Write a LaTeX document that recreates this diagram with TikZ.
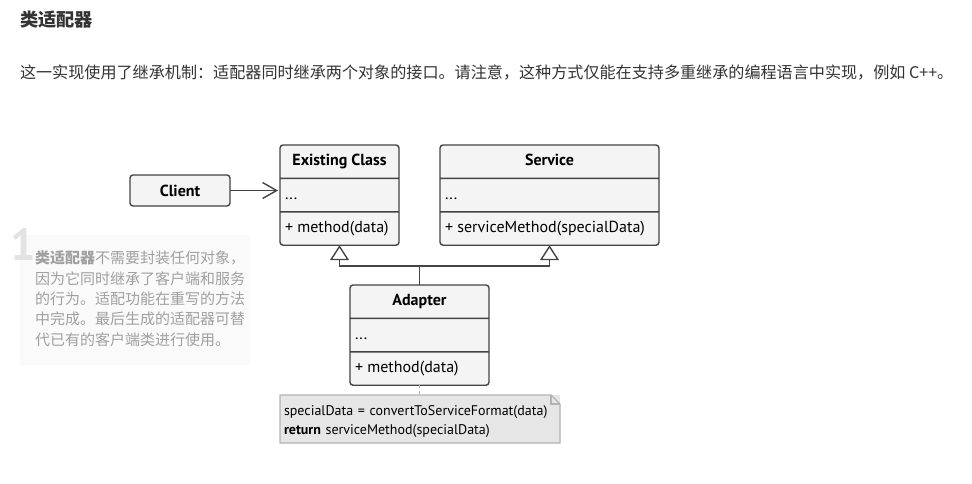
\documentclass[tikz,border=0pt]{standalone}
\usepackage{fontspec}
\setmainfont{PT Sans}
\newfontfamily\cjk{Noto Sans CJK SC}
\usetikzlibrary{arrows.meta}
\usetikzlibrary{shapes.multipart}

\definecolor{boxline}{HTML}{444444}
\definecolor{boxfill}{HTML}{F4F4F4}
\definecolor{notefill}{HTML}{E6E6E6}
\definecolor{noteline}{HTML}{B3B3B3}
\definecolor{hintfill}{HTML}{FAFAFA}
\definecolor{hinttext}{HTML}{A0A0A0}
\definecolor{hintnum}{HTML}{E3E3E3}
\definecolor{bodytext}{HTML}{333333}

\newcommand\rowstrut{\rule[-7pt]{0pt}{22pt}}

\begin{document}
\begin{tikzpicture}[x=1pt, y=-1pt, font=\fontsize{16}{18}\selectfont,
    every node/.style={outer sep=0pt},
    class/.style={draw=boxline, fill=boxfill, line width=1.4pt, rounded corners=3pt,
        rectangle split, rectangle split parts=3,
        rectangle split part align={center,left,left},
        inner xsep=5pt, inner ysep=5pt, anchor=north west},
    plainbox/.style={draw=boxline, fill=boxfill, line width=1.4pt, rounded corners=3pt,
        minimum width=100pt, minimum height=31pt, anchor=north west},
    notebox/.style={anchor=north west, align=left, inner xsep=4pt, inner ysep=0pt,
        minimum width=280pt, minimum height=48pt, text width=272pt,
        font=\fontsize{14}{19}\selectfont},
    inherit/.style={draw=boxline, line width=1.4pt, -{Triangle[open, length=15pt, width=19pt, line width=1.4pt]}}]

    \useasboundingbox (0,0) rectangle (972,483);

    % heading and description
    \node (title) [anchor=west, text=bodytext, font=\cjk\bfseries\fontsize{18.2}{20}\selectfont, inner sep=0pt] at (20,20) {类适配器};
    \node (intro) [anchor=west, text=bodytext, font=\cjk\fontsize{16.1}{18}\selectfont, inner sep=0pt] at (20,73)
        {这一实现使用了继承机制：适配器同时继承两个对象的接口。请注意，这种方式仅能在支持多重继承的编程语言中实现，例如 C++。};

    % hint on the left
    \node (hint) [anchor=north west, fill=hintfill, minimum width=230pt, minimum height=130pt, inner sep=0pt] at (20,235) {};
    \node (hintnum) [anchor=north west, text=hintnum, font=\bfseries\fontsize{45}{45}\selectfont, inner sep=0pt] at (10,228) {1};
    \node (hinttxt) [anchor=north west, align=left, text=hinttext, inner sep=0pt,
        font=\cjk\fontsize{15}{20.3}\selectfont] at (35,251)
        {\textbf{类适配器}不需要封装任何对象，\\因为它同时继承了客户端和服务\\的行为。适配功能在重写的方法\\中完成。最后生成的适配器可替\\代已有的客户端类进行使用。};

    % classes
    \node (client) [plainbox] at (130,175) {\textbf{Client}};
    \node (existing) [class, minimum width=119pt] at (280,145)
        {\rowstrut\textbf{Existing Class}\nodepart{two}\rowstrut...\nodepart{three}\rowstrut+ method(data)};
    \node (service) [class, minimum width=219pt] at (440,145)
        {\rowstrut\textbf{Service}\nodepart{two}\rowstrut...\nodepart{three}\rowstrut+ serviceMethod(specialData)};
    \node (adapter) [class, minimum width=139pt] at (350,285)
        {\rowstrut\textbf{Adapter}\nodepart{two}\rowstrut...\nodepart{three}\rowstrut+ method(data)};

    % note under the adapter
    \node (note) [notebox, fill=notefill] at (280,395) {};
    \draw [fill=notefill, draw=noteline, line width=1.4pt]
        (note.north west) -- ([xshift=-9pt]note.north east) -- ([yshift=-9pt]note.north east)
        -- (note.south east) -- (note.south west) -- cycle;
    \draw [draw=noteline, line width=1.2pt]
        ([xshift=-9pt]note.north east) -- ([xshift=-9pt, yshift=-9pt]note.north east) -- ([yshift=-9pt]note.north east);
    \node (notetxt) [notebox] at (280,395)
        {\\[-3pt]specialData = convertToServiceFormat(data)\\\textbf{return} serviceMethod(specialData)};

    % connectors
    \draw [draw=boxline, line width=1.4pt, -{Straight Barb[length=14pt, width=16pt, line width=1.4pt]}]
        (client.east) -- ([xshift=-2pt]existing.text split west |- client.east);
    \draw [inherit] (adapter.north) -- ++(0,-19) -| (existing.south);
    \draw [inherit] (adapter.north) -- ++(0,-19) -| (service.south);
    \draw [draw=noteline, line width=1.4pt, dash pattern=on 3pt off 3pt] (adapter.south) -- (note.north -| adapter.south);
\end{tikzpicture}
\end{document}
